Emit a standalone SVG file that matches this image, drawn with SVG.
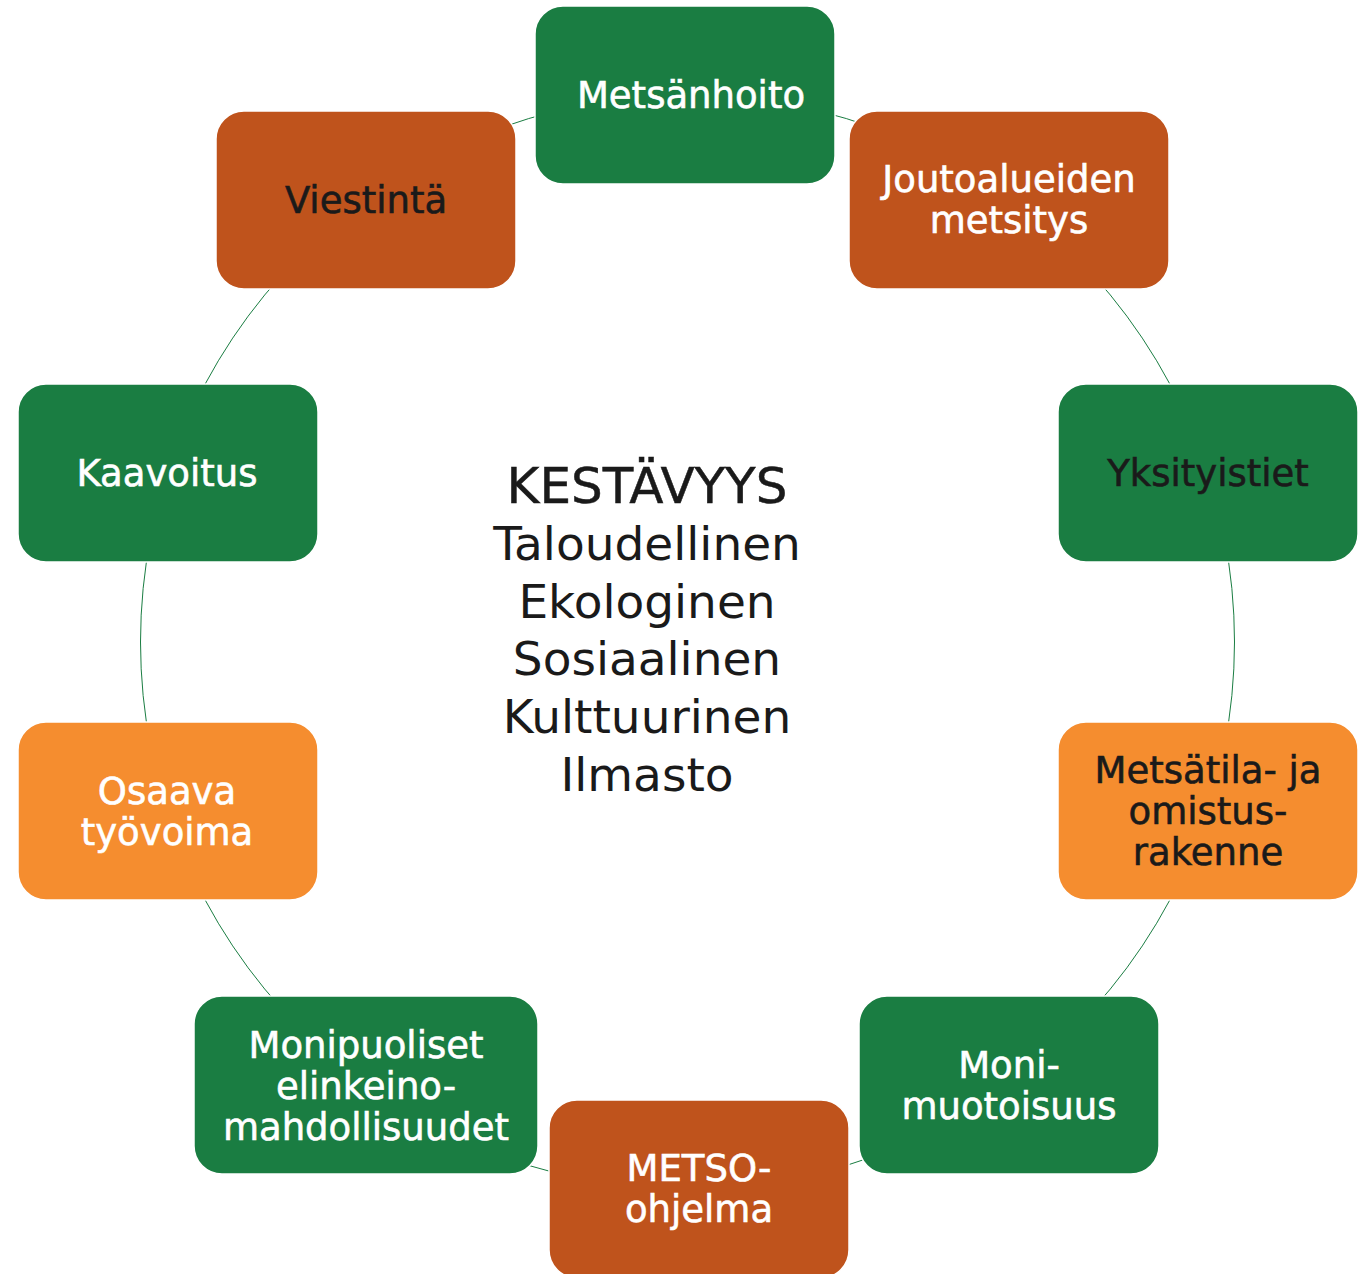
<svg xmlns="http://www.w3.org/2000/svg" width="1365" height="1274" viewBox="0 0 1365 1274">
<style>
.box{stroke:#ffffff;stroke-width:1.5}
.g{fill:#1a7d42}
.r{fill:#bf531c}
.o{fill:#f58d2f}
.t{font-family:"DejaVu Sans",Verdana,sans-serif;font-size:37px;text-anchor:middle;stroke-width:0.6}
.w{fill:#ffffff;stroke:#ffffff}
.d{fill:#1a1a1a;stroke:#1a1a1a}
.c{font-family:"DejaVu Sans",Verdana,sans-serif;font-size:47px;text-anchor:middle;fill:#1a1a1a}
</style>
<rect width="1365" height="1274" fill="#ffffff"/>
<g id="connectors">
<circle cx="687.5" cy="642" r="547" fill="none" stroke="#1a7d42" stroke-width="1"/>
</g>
<g id="center">
<text class="c" x="647" y="503" style="font-size:50px;stroke:#1a1a1a;stroke-width:0.5">KESTÄVYYS</text>
<text class="c" x="647" y="560">Taloudellinen</text>
<text class="c" x="647" y="618">Ekologinen</text>
<text class="c" x="647" y="675">Sosiaalinen</text>
<text class="c" x="647" y="733">Kulttuurinen</text>
<text class="c" x="647" y="791">Ilmasto</text>
</g>
<g id="metsanhoito">
<rect class="box g" x="535" y="6" width="300" height="178" rx="28"/>
<text class="t w" x="691" y="108">Metsänhoito</text>
</g>
<g id="joutoalueiden">
<rect class="box r" x="849" y="111" width="320" height="178" rx="28"/>
<text class="t w" x="1009" y="192">Joutoalueiden</text>
<text class="t w" x="1009" y="233">metsitys</text>
</g>
<g id="yksityistiet">
<rect class="box g" x="1058" y="384" width="300" height="178" rx="28"/>
<text class="t d" x="1208" y="486">Yksityistiet</text>
</g>
<g id="metsatila">
<rect class="box o" x="1058" y="722" width="300" height="178" rx="28"/>
<text class="t d" x="1208" y="783">Metsätila- ja</text>
<text class="t d" x="1208" y="824">omistus-</text>
<text class="t d" x="1208" y="865">rakenne</text>
</g>
<g id="monimuotoisuus">
<rect class="box g" x="859" y="996" width="300" height="178" rx="28"/>
<text class="t w" x="1009" y="1078">Moni-</text>
<text class="t w" x="1009" y="1119">muotoisuus</text>
</g>
<g id="metso">
<rect class="box r" x="549" y="1100" width="300" height="178" rx="28"/>
<text class="t w" x="699" y="1181">METSO-</text>
<text class="t w" x="699" y="1222">ohjelma</text>
</g>
<g id="monipuoliset">
<rect class="box g" x="194" y="996" width="344" height="178" rx="28"/>
<text class="t w" x="366" y="1058">Monipuoliset</text>
<text class="t w" x="366" y="1099">elinkeino-</text>
<text class="t w" x="366" y="1140">mahdollisuudet</text>
</g>
<g id="osaava">
<rect class="box o" x="18" y="722" width="300" height="178" rx="28"/>
<text class="t w" x="167" y="804">Osaava</text>
<text class="t w" x="167" y="845">työvoima</text>
</g>
<g id="kaavoitus">
<rect class="box g" x="18" y="384" width="300" height="178" rx="28"/>
<text class="t w" x="167" y="486">Kaavoitus</text>
</g>
<g id="viestinta">
<rect class="box r" x="216" y="111" width="300" height="178" rx="28"/>
<text class="t d" x="366" y="213">Viestintä</text>
</g>
</svg>
